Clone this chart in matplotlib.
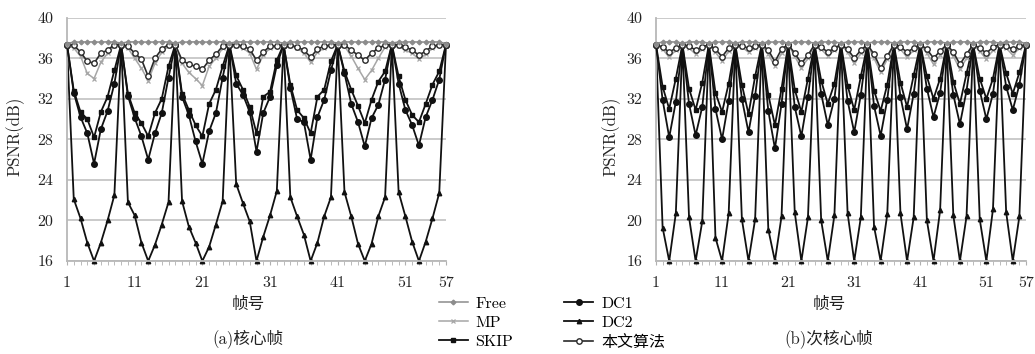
import matplotlib
matplotlib.use('Agg')
import matplotlib.pyplot as plt
from matplotlib.lines import Line2D

plt.rcParams['font.family'] = ['cmr10', 'Noto Sans CJK SC']
plt.rcParams['axes.formatter.use_mathtext'] = True

frames = list(range(1, 58))
x_ticks = [1, 11, 21, 31, 41, 51, 57]
y_ticks = [16, 20, 24, 28, 32, 36, 40]
series_names = ['Free', 'MP', 'SKIP', 'DC1', 'DC2', '本文算法']

# ---------------- (a) 核心帧 : key frame every 8 frames ----------------
a_free = [37.45,
          37.6, 37.6, 37.62, 37.6, 37.6, 37.62, 37.6, 37.5,
          37.6, 37.62, 37.6, 37.6, 37.6, 37.62, 37.6, 37.5,
          37.6, 37.6, 37.62, 37.6, 37.6, 37.6, 37.62, 37.5,
          37.6, 37.62, 37.6, 37.6, 37.62, 37.6, 37.6, 37.5,
          37.6, 37.6, 37.62, 37.6, 37.6, 37.62, 37.6, 37.5,
          37.6, 37.62, 37.6, 37.6, 37.6, 37.62, 37.6, 37.5,
          37.6, 37.6, 37.62, 37.6, 37.6, 37.62, 37.6, 37.45]
a_mp = [37.35,
        37.0, 36.2, 34.5, 34.0, 35.6, 36.5, 37.2, 37.35,
        37.0, 36.0, 35.0, 33.8, 35.5, 36.6, 37.2, 37.35,
        35.5, 34.6, 34.0, 33.3, 35.2, 36.0, 37.0, 37.35,
        37.2, 37.0, 36.5, 34.9, 36.3, 37.0, 37.2, 37.35,
        37.2, 37.0, 36.5, 35.6, 36.6, 37.0, 37.3, 37.35,
        37.2, 36.2, 35.0, 33.9, 34.8, 36.0, 37.1, 37.35,
        37.2, 36.8, 36.5, 35.9, 36.4, 37.0, 37.3, 37.35]
a_skip = [37.35,
          32.8, 30.7, 30.0, 28.2, 30.7, 32.2, 34.8, 37.35,
          32.5, 30.6, 29.6, 28.3, 30.6, 32.0, 35.2, 37.35,
          32.5, 30.9, 29.4, 28.3, 31.5, 32.9, 35.2, 37.35,
          34.3, 32.9, 31.2, 28.6, 32.2, 32.7, 35.8, 37.35,
          33.4, 30.9, 30.1, 28.6, 32.2, 32.9, 35.7, 37.35,
          34.7, 32.9, 31.3, 29.6, 31.9, 33.7, 34.7, 37.35,
          34.2, 31.9, 30.4, 29.7, 31.5, 33.4, 34.7, 37.35]
a_dc1 = [37.35,
         32.6, 30.2, 28.6, 25.6, 29.0, 30.8, 33.5, 37.35,
         32.3, 30.1, 28.3, 26.0, 28.6, 30.6, 34.1, 37.35,
         32.2, 30.4, 27.8, 25.6, 28.8, 30.6, 34.1, 37.35,
         33.5, 32.4, 30.7, 26.8, 30.6, 32.2, 35.3, 37.35,
         33.1, 30.0, 29.7, 26.0, 30.2, 31.9, 34.8, 37.35,
         34.5, 31.5, 29.7, 27.3, 30.1, 31.4, 33.9, 37.35,
         33.5, 30.9, 29.4, 27.4, 30.2, 31.9, 33.9, 37.35]
a_dc2 = [37.35,
         22.1, 20.2, 17.8, 16.0, 17.8, 20.0, 22.5, 37.35,
         21.8, 20.5, 17.8, 16.0, 17.6, 19.6, 21.8, 37.35,
         21.9, 19.4, 17.8, 16.0, 17.4, 19.6, 21.9, 37.35,
         23.6, 21.7, 19.9, 16.0, 18.4, 20.5, 22.9, 37.35,
         22.3, 20.4, 18.6, 16.0, 17.8, 20.4, 22.3, 37.35,
         22.8, 20.4, 17.7, 16.0, 17.7, 20.4, 22.3, 37.35,
         22.8, 20.4, 17.9, 16.0, 17.9, 20.2, 22.7, 37.35]
a_ours = [37.35,
          37.3, 36.6, 35.7, 35.5, 36.5, 36.8, 37.35, 37.35,
          37.2, 36.5, 35.9, 34.2, 36.0, 36.9, 37.35, 37.35,
          35.8, 35.4, 35.2, 34.9, 35.8, 36.4, 37.2, 37.35,
          37.35, 37.2, 36.9, 35.8, 36.6, 37.2, 37.2, 37.35,
          37.3, 37.1, 36.8, 36.1, 36.9, 37.2, 37.3, 37.35,
          37.3, 36.8, 36.3, 35.8, 36.5, 37.0, 37.3, 37.35,
          37.3, 37.1, 36.8, 36.3, 36.7, 37.2, 37.3, 37.35]

# ---------------- (b) 次核心帧 : key frame every 4 frames ----------------
b_free = [37.45,
          37.6, 37.62, 37.6, 37.5, 37.6, 37.62, 37.6, 37.5,
          37.6, 37.6, 37.62, 37.5, 37.6, 37.62, 37.6, 37.5,
          37.6, 37.6, 37.62, 37.5, 37.6, 37.62, 37.6, 37.5,
          37.62, 37.6, 37.6, 37.5, 37.6, 37.62, 37.6, 37.5,
          37.6, 37.6, 37.62, 37.5, 37.6, 37.62, 37.6, 37.5,
          37.6, 37.62, 37.6, 37.5, 37.6, 37.6, 37.62, 37.5,
          37.6, 37.62, 37.6, 37.5, 37.6, 37.6, 37.62, 37.45]
b_mp = [37.35,
        36.9, 36.1, 36.8, 37.35, 37.0, 36.4, 36.9, 37.35,
        36.6, 35.7, 36.7, 37.35, 37.1, 36.6, 37.0, 37.35,
        36.4, 35.2, 36.5, 37.35, 36.2, 35.0, 36.0, 37.35,
        36.9, 36.2, 36.8, 37.35, 36.6, 35.5, 36.5, 37.35,
        36.0, 34.6, 35.9, 37.35, 36.9, 36.1, 36.8, 37.35,
        36.5, 35.4, 36.3, 37.35, 36.2, 34.9, 36.0, 37.35,
        36.7, 35.9, 36.8, 37.35, 37.0, 36.3, 37.0, 37.35]
b_skip = [37.35,
          33.2, 31.0, 34.0, 37.35, 33.0, 30.9, 33.6, 37.35,
          32.6, 30.7, 33.5, 37.35, 33.4, 30.5, 34.2, 37.35,
          32.4, 29.4, 33.0, 37.35, 32.9, 30.7, 34.0, 37.35,
          33.8, 31.5, 33.5, 37.35, 33.3, 30.9, 34.2, 37.35,
          32.8, 30.8, 33.4, 37.35, 33.6, 31.2, 34.3, 37.35,
          34.2, 32.0, 34.0, 37.35, 33.7, 31.5, 34.5, 37.35,
          34.0, 32.0, 34.0, 37.35, 34.5, 32.5, 34.6, 37.35]
b_dc1 = [37.35,
         31.9, 28.2, 31.7, 37.35, 31.5, 28.4, 31.2, 37.35,
         31.0, 28.0, 31.8, 37.35, 32.0, 28.7, 32.3, 37.35,
         30.8, 27.1, 31.5, 37.35, 31.2, 28.3, 32.2, 37.35,
         32.5, 29.4, 32.0, 37.35, 31.8, 28.7, 32.4, 37.35,
         31.3, 28.35, 31.9, 37.35, 32.2, 29.0, 32.5, 37.35,
         33.0, 30.2, 32.6, 37.35, 32.4, 29.5, 32.8, 37.35,
         32.8, 30.0, 32.5, 37.35, 33.2, 30.9, 33.4, 37.35]
b_dc2 = [37.35,
         19.3, 16.0, 20.7, 37.35, 20.3, 16.0, 19.9, 37.35,
         18.3, 16.0, 20.7, 37.35, 20.1, 16.0, 20.1, 37.35,
         19.1, 16.0, 20.4, 37.35, 20.8, 16.0, 20.3, 37.35,
         20.0, 16.0, 20.5, 37.35, 20.7, 16.0, 20.3, 37.35,
         19.4, 16.0, 20.6, 37.35, 20.7, 16.0, 20.3, 37.35,
         20.0, 16.0, 21.0, 37.35, 20.5, 16.0, 20.4, 37.35,
         20.1, 16.0, 21.1, 37.35, 20.8, 16.0, 20.4, 37.35]
b_ours = [37.35,
          37.1, 36.6, 37.0, 37.35, 37.2, 36.8, 37.1, 37.35,
          36.9, 36.15, 37.0, 37.35, 37.2, 37.0, 37.2, 37.35,
          36.8, 35.65, 36.9, 37.35, 36.5, 35.5, 36.3, 37.35,
          37.1, 36.6, 37.0, 37.35, 36.9, 36.0, 36.8, 37.35,
          36.4, 35.0, 36.2, 37.35, 37.1, 36.6, 37.0, 37.35,
          36.9, 36.0, 36.7, 37.35, 36.6, 35.4, 36.4, 37.35,
          37.0, 36.5, 37.1, 37.35, 37.2, 36.9, 37.2, 37.35]

styles = {
    'Free': dict(color='#8c8c8c', marker='D', ms=2.4, lw=1.1, mfc='#8c8c8c', mec='#8c8c8c', zorder=7),
    'MP': dict(color='#a6a6a6', marker='x', ms=3.4, lw=1.1, mew=0.9, zorder=5),
    'SKIP': dict(color='#111111', marker='s', ms=2.9, lw=1.3, zorder=3),
    'DC1': dict(color='#111111', marker='o', ms=4.0, lw=1.3, zorder=4),
    'DC2': dict(color='#111111', marker='^', ms=3.2, lw=1.3, zorder=2),
    '本文算法': dict(color='#2a2a2a', marker='o', ms=3.9, lw=1.2, mfc='white', mec='#2a2a2a', mew=1.0, zorder=6),
}

W, H = 1035, 354
fig = plt.figure(figsize=(W / 100, H / 100), dpi=100)

top_px, bot_px = 17.7, 261
panels = [
    (67, 446, [a_free, a_mp, a_skip, a_dc1, a_dc2, a_ours], 15, 248, '(a)核心帧'),
    (656, 1026, [b_free, b_mp, b_skip, b_dc1, b_dc2, b_ours], 611, 829, '(b)次核心帧'),
]

for left_px, right_px, data, ylab_x, cap_x, caption in panels:
    ax = fig.add_axes([left_px / W, 1 - bot_px / H, (right_px - left_px) / W, (bot_px - top_px) / H])
    order = ['DC2', 'SKIP', 'DC1', 'MP', '本文算法', 'Free']
    for name in order:
        vals = data[series_names.index(name)]
        ax.plot(frames, vals, clip_on=False, **styles[name])
    ax.set_xlim(1, 57)
    ax.set_ylim(16, 40)
    ax.set_yticks(y_ticks)
    ax.set_yticklabels([str(v) for v in y_ticks])
    ax.set_xticks(x_ticks)
    ax.set_xticklabels([str(v) for v in x_ticks])
    ax.set_xticks(frames, minor=True)
    ax.yaxis.grid(True, color='#c6c6c6', lw=1.3)
    ax.set_axisbelow(True)
    for s in ['top', 'right']:
        ax.spines[s].set_visible(False)
    for s in ['left', 'bottom']:
        ax.spines[s].set_color('#b8b8b8')
        ax.spines[s].set_linewidth(1.3)
    ax.tick_params(axis='y', length=0, pad=10, labelsize=11.5, labelcolor='#222222')
    ax.tick_params(axis='x', which='major', length=3, color='#b0b0b0', pad=8, labelsize=11.5, labelcolor='#222222')
    ax.tick_params(axis='x', which='minor', length=3, color='#b0b0b0')
    fig.text(ylab_x / W, 1 - 136 / H, 'PSNR(dB)', rotation=90, ha='center', va='center', fontsize=12, color='#222222')
    fig.text(cap_x / W, 1 - 304 / H, '帧号', ha='center', va='center', fontsize=12, color='#222222')
    fig.text(cap_x / W, 1 - 339 / H, caption, ha='center', va='center', fontsize=12, color='#222222')

handles = [Line2D([], [], **{k: v for k, v in styles[n].items() if k != 'zorder'}) for n in series_names]
fig.legend(handles, series_names, ncol=2, loc='center', bbox_to_anchor=(552 / W, 1 - 323 / H),
           frameon=False, fontsize=11.5, handlelength=1.8, labelspacing=0.3, columnspacing=3.2,
           handletextpad=0.5, borderpad=0, borderaxespad=0)

fig.savefig('out.png', dpi=100)
